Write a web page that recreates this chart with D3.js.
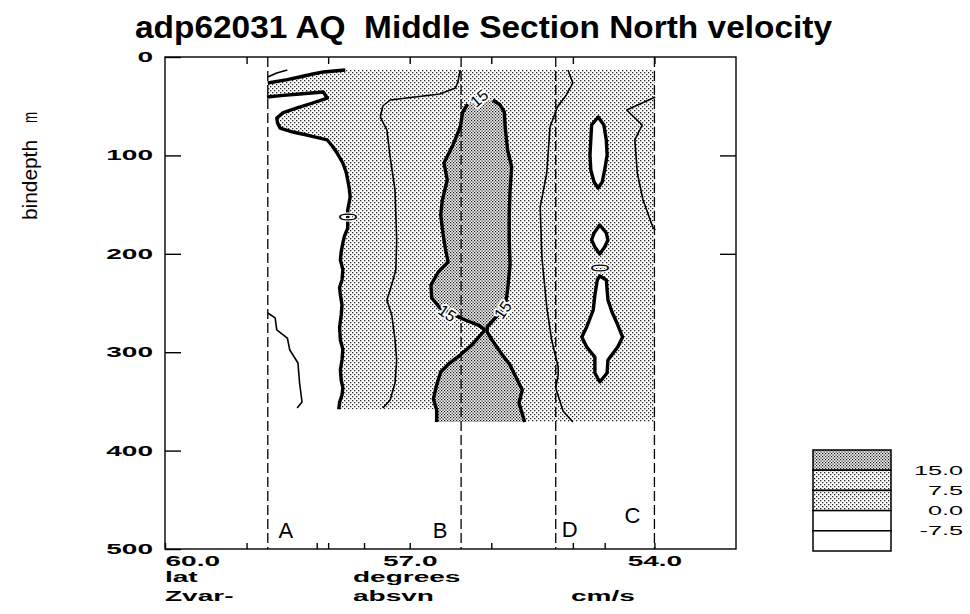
<!DOCTYPE html>
<html><head><meta charset="utf-8">
<script src="https://cdn.jsdelivr.net/npm/d3@7"></script>
<style>body{margin:0;background:#fff}svg{display:block}</style>
</head><body>
<svg id="chart" width="970" height="614"></svg>
<script>
// ---------- data ----------
const title = "adp62031 AQ  Middle Section North velocity";
const depthTicks = [0, 100, 200, 300, 400, 500];
const latLabelTicks = [60, 57, 54];
const latTopTicks = [59, 58, 57, 56, 55, 54];
const latStationTicks = [59, 58.14, 58, 57.56, 57, 56, 55, 54.61];
const rightDepthTicks = [100, 200];
const levels = [15.0, 7.5, 0.0, -7.5];
const sections = [
  {name: "A", lat: 58.74}, {name: "B", lat: 56.37},
  {name: "D", lat: 55.21}, {name: "C", lat: 54.0}
];
// gridded section extent (lat, depth m)
const dataTop = 13.2, westLat = 58.74, eastLat = 54.0;
const bottomWest = 358, bottomEast = 371, bottomStepLat = 56.67;

// contour lines, [lat, depth]
const zeroUpper = [[58.74,26.4],[58.50,23.0],[58.35,20.3],[58.20,17.5],[58.06,15.2],[57.79,13.2]];
const zeroMain = [[58.75,40.7],[58.55,39.0],[58.35,37.6],[58.06,35.6],[58.01,41.7],[58.20,47.0],[58.38,51.8],
  [58.55,56.5],[58.63,62.0],[58.62,67.0],[58.59,72.2],[58.42,76.5],[58.26,79.3],[58.01,84.3],[57.95,90.5],
  [57.89,97.6],[57.82,107.7],[57.78,116.9],[57.76,125.0],[57.74,134.0],[57.73,142.3],[57.76,155.5],
  [57.76,165.0],[57.76,173.8],[57.80,182.0],[57.82,189.0],[57.84,198.0],[57.85,206.3],[57.82,216.0],
  [57.83,226.6],[57.86,234.0],[57.85,241.9],[57.83,252.0],[57.84,262.2],[57.86,275.0],[57.85,287.6],
  [57.82,297.0],[57.83,307.9],[57.85,318.0],[57.84,328.3],[57.82,336.0],[57.83,343.5],[57.86,351.0],[57.87,358]];
const c15West = [[56.29,47.8],[56.35,55.9],[56.38,71.1],[56.47,89.4],[56.58,107.7],[56.54,125.0],[56.60,145.3],
  [56.62,160.6],[56.59,180.9],[56.56,196.1],[56.53,208.3],[56.65,218.5],[56.74,231.7],[56.73,244.9],
  [56.63,255.1],[56.51,260.2],[56.32,267.3],[56.16,272.4],[56.09,276.4],[56.09,278.5],[56.24,292.7],
  [56.38,302.8],[56.51,311.0],[56.62,320.1],[56.67,333.3],[56.71,347.6],[56.67,358.7],[56.67,371]];
const c15East = [[55.98,43.7],[55.89,48.8],[55.84,55.9],[55.83,71.1],[55.80,94.5],[55.75,111.8],[55.77,135.2],
  [55.78,160.6],[55.78,186.0],[55.77,211.4],[55.80,236.8],[55.83,254.1],[55.95,265.2],[56.05,274.4],
  [56.05,279.5],[55.99,287.6],[55.89,299.8],[55.77,313.0],[55.68,328.3],[55.62,338.4],[55.66,351.6],[55.59,371]];
const c75West = [[56.38,13.2],[56.41,25.4],[56.44,31.5],[56.63,37.6],[57.24,43.7],[57.33,49.8],[57.36,61.0],
  [57.28,74.2],[57.24,101.6],[57.18,135.2],[57.16,186.0],[57.17,216.5],[57.24,236.8],[57.28,247.0],
  [57.22,262.2],[57.18,287.6],[57.16,307.9],[57.18,331.3],[57.24,348.6],[57.33,356.7]];
const c75East = [[55.06,13.2],[55.00,26.4],[55.08,38.6],[55.19,50.8],[55.28,71.1],[55.30,94.5],[55.32,117.9],
  [55.40,152.4],[55.38,203.3],[55.32,254.1],[55.26,287.6],[55.18,315.0],[55.18,323.2],[55.21,336.4],
  [55.12,359.8],[55.00,371]];
const c75Edge = [[53.99,40.7],[54.34,53.9],[54.15,69.1],[54.24,84.3],[54.21,117.9],[54.14,145.3],[54.02,172.8],[53.99,175.8]];
const cm75West = [[58.74,260.2],[58.65,265.2],[58.63,277.4],[58.50,285.6],[58.47,297.8],[58.37,311.0],
  [58.35,331.3],[58.32,350.6],[58.38,356.7]];
const cm75Top = [[58.74,20.3],[58.63,16.3],[58.50,13.2]];
// closed zero contours around negative cores
const zeroCore1 = [[54.69,61.0],[54.62,69.1],[54.59,84.3],[54.58,99.6],[54.61,114.8],[54.64,127.0],[54.69,133.1],
  [54.74,127.0],[54.78,114.8],[54.79,99.6],[54.78,84.3],[54.77,69.1]];
const zeroCore2 = [[54.67,170.7],[54.59,178.9],[54.57,186.0],[54.61,193.1],[54.67,200.2],[54.73,193.1],[54.77,186.0],[54.74,178.9]];
const zeroCore3 = [[54.67,222.6],[54.59,226.6],[54.57,247.0],[54.52,259.1],[54.46,270.3],[54.39,284.6],[54.45,294.7],
  [54.57,307.9],[54.58,321.1],[54.67,330.3],[54.73,321.1],[54.73,304.9],[54.83,294.7],[54.89,284.6],
  [54.83,274.4],[54.75,257.1],[54.73,241.9],[54.70,226.6]];
const contourLabels = [
  {lat: 57.76, depth: 162.6, text: "0"}, {lat: 56.15, depth: 41.7, text: "15"},
  {lat: 56.54, depth: 260.2, text: "15"}, {lat: 55.86, depth: 257.1, text: "15"},
  {lat: 54.67, depth: 214.4, text: "0"}
];
const contourLabelAngles = [90, -40, 35, -55, 90];

// ---------- drawing ----------
const svg = d3.select("#chart");
const x = d3.scaleLinear().domain([60, 53]).range([165, 736]);
const y = d3.scaleLinear().domain([0, 500]).range([57, 549]);
const line = d3.line().x(d => x(d[0])).y(d => y(d[1]));
const ring = d3.line().x(d => x(d[0])).y(d => y(d[1])).curve(d3.curveLinearClosed);
const FONT = "'Liberation Sans', Arial, Helvetica, sans-serif";
const fmt = v => d3.format(".1f")(v).replace("\u2212", "-");

function stretch(sel, factor) {
  sel.each(function () {
    const w = this.getComputedTextLength();
    d3.select(this).attr("textLength", w * factor).attr("lengthAdjust", "spacingAndGlyphs");
  });
}

// stipple fills
const defs = svg.append("defs");
const pLight = defs.append("pattern").attr("id", "stLight").attr("patternUnits", "userSpaceOnUse")
  .attr("width", 4).attr("height", 4);
pLight.append("rect").attr("width", 4).attr("height", 4).attr("fill", "#fff");
[[0, 0], [2, 2]].forEach(p => pLight.append("rect").attr("x", p[0]).attr("y", p[1])
  .attr("width", 1.3).attr("height", 1.3).attr("fill", "#222"));
const pDark = defs.append("pattern").attr("id", "stDark").attr("patternUnits", "userSpaceOnUse")
  .attr("width", 3).attr("height", 3);
pDark.append("rect").attr("width", 3).attr("height", 3).attr("fill", "#f2f2f2");
[[0, 0], [1.5, 1.5]].forEach(p => pDark.append("rect").attr("x", p[0]).attr("y", p[1])
  .attr("width", 1.2).attr("height", 1.2).attr("fill", "#111"));

const plot = svg.append("g");

// positive velocity (> 0)
const positive = [].concat(
  zeroUpper,
  [[eastLat, dataTop], [eastLat, bottomEast], [bottomStepLat, bottomEast], [bottomStepLat, bottomWest]],
  zeroMain.slice().reverse()
);
plot.append("path").attr("d", ring(positive)).attr("fill", "url(#stLight)");
// strong core (> 15)
plot.append("path").attr("d", ring(c15West.concat(c15East.slice().reverse()))).attr("fill", "url(#stDark)");
// negative cores
[zeroCore1, zeroCore2, zeroCore3].forEach(c =>
  plot.append("path").attr("d", ring(c)).attr("fill", "#fff"));

// station section lines
plot.selectAll("line.sec").data(sections).join("line")
  .attr("x1", d => x(d.lat)).attr("x2", d => x(d.lat))
  .attr("y1", y(0)).attr("y2", y(500))
  .attr("stroke", "#000").attr("stroke-width", 1.3).attr("stroke-dasharray", "10,4");
const secDx = {A: 18, B: -21, D: 14, C: -22};
const secBase = {A: 538, B: 538, D: 537, C: 523};
plot.selectAll("text.sec").data(sections).join("text")
  .attr("x", d => x(d.lat) + secDx[d.name]).attr("y", d => secBase[d.name])
  .attr("text-anchor", "middle").attr("font-family", FONT).attr("font-size", 22)
  .text(d => d.name);

// contour lines
const thick = [zeroUpper, zeroMain, c15West, c15East, zeroCore1, zeroCore2, zeroCore3];
const thin = [c75West, c75East, c75Edge, cm75West, cm75Top];
thin.forEach(c => plot.append("path").attr("d", line(c)).attr("fill", "none")
  .attr("stroke", "#000").attr("stroke-width", 1.6).attr("stroke-linejoin", "round"));
thick.forEach((c, i) => plot.append("path")
  .attr("d", i >= 4 ? ring(c) : line(c)).attr("fill", "none")
  .attr("stroke", "#000").attr("stroke-width", 3.4).attr("stroke-linejoin", "round"));

const clab = plot.selectAll("text.clab").data(contourLabels).join("text")
  .attr("transform", (d, i) => `translate(${x(d.lat)},${y(d.depth)}) rotate(${contourLabelAngles[i]})`)
  .attr("text-anchor", "middle").attr("dy", "0.36em")
  .attr("font-family", FONT)
  .attr("font-size", d => d.text === "0" ? 25 : 16)
  .attr("stroke", "#fff").attr("stroke-width", 3.5).attr("stroke-linejoin", "round")
  .attr("paint-order", "stroke")
  .text(d => d.text);
clab.filter(d => d.text === "0").attr("textLength", 8).attr("lengthAdjust", "spacingAndGlyphs");

// frame
svg.append("rect").attr("x", x(60)).attr("y", y(0))
  .attr("width", x(53) - x(60)).attr("height", y(500) - y(0))
  .attr("fill", "none").attr("stroke", "#000").attr("stroke-width", 1.4);

// axes
const yAxis = svg.append("g").attr("transform", `translate(${x(60)},0)`)
  .call(d3.axisLeft(y).tickValues(depthTicks).tickSize(-16).tickSizeOuter(0).tickPadding(12));
const xAxis = svg.append("g").attr("transform", `translate(0,${y(500)})`)
  .call(d3.axisBottom(x).tickValues(Array.from(new Set(latStationTicks.concat(latLabelTicks))))
    .tickSize(-6).tickSizeOuter(0).tickPadding(7)
    .tickFormat(d => latLabelTicks.includes(d) ? fmt(d) : ""));
svg.append("g").attr("transform", `translate(0,${y(0)})`)
  .call(d3.axisTop(x).tickValues(latTopTicks).tickSize(-7).tickSizeOuter(0).tickFormat(""));
svg.append("g").attr("transform", `translate(${x(53)},0)`)
  .call(d3.axisRight(y).tickValues(rightDepthTicks).tickSize(-16).tickSizeOuter(0).tickFormat(""));
svg.selectAll(".domain").remove();
svg.selectAll(".tick line").attr("stroke", "#000").attr("stroke-width", 1.4);
svg.selectAll(".tick text").attr("font-family", FONT).attr("font-size", 14)
  .attr("font-weight", "bold").attr("fill", "#000");
yAxis.selectAll(".tick text").call(stretch, 2.0);
xAxis.selectAll(".tick text").call(stretch, 2.0);
xAxis.selectAll(".tick text").filter(d => d === 60).attr("text-anchor", "start");

// axis captions
const captions = [
  {t: "lat", x: 165, y: 582}, {t: "degrees", x: 353, y: 582},
  {t: "Zvar-", x: 165, y: 601}, {t: "absvn", x: 353, y: 601}, {t: "cm/s", x: 571, y: 601}
];
svg.selectAll("text.cap").data(captions).join("text")
  .attr("x", d => d.x).attr("y", d => d.y)
  .attr("font-family", FONT).attr("font-size", 14).attr("font-weight", "bold")
  .text(d => d.t).call(stretch, 2.0);

svg.append("text").attr("transform", "translate(37,220) rotate(-90)")
  .attr("font-family", "'Liberation Sans Narrow', " + FONT).attr("font-size", 21)
  .attr("textLength", 80).attr("lengthAdjust", "spacingAndGlyphs").text("bindepth");
svg.append("text").attr("transform", "translate(37,123) rotate(-90)")
  .attr("font-family", "'Liberation Sans Narrow', " + FONT).attr("font-size", 21)
  .attr("textLength", 11).attr("lengthAdjust", "spacingAndGlyphs").text("m");

// title
svg.append("text").attr("x", 135).attr("y", 38)
  .attr("font-family", FONT).attr("font-size", 32).attr("font-weight", "bold")
  .style("white-space", "pre")
  .attr("textLength", 697).attr("lengthAdjust", "spacingAndGlyphs").text(title);

// legend
const legFills = ["url(#stDark)", "url(#stLight)", "url(#stLight)", "#fff", "#fff"];
const legX = 813, legW = 78, legTop = 450, legRowH = 20.2;
const leg = svg.append("g");
leg.selectAll("rect").data(legFills).join("rect")
  .attr("x", legX).attr("y", (d, i) => legTop + i * legRowH)
  .attr("width", legW).attr("height", legRowH)
  .attr("fill", d => d).attr("stroke", "#000").attr("stroke-width", 1.5);
leg.selectAll("text").data(levels).join("text")
  .attr("x", 963).attr("y", (d, i) => legTop + (i + 1) * legRowH).attr("dy", "0.36em")
  .attr("text-anchor", "end").attr("font-family", FONT).attr("font-size", 12)
  .text(d => fmt(d)).call(stretch, 2.1);
</script>
</body></html>
